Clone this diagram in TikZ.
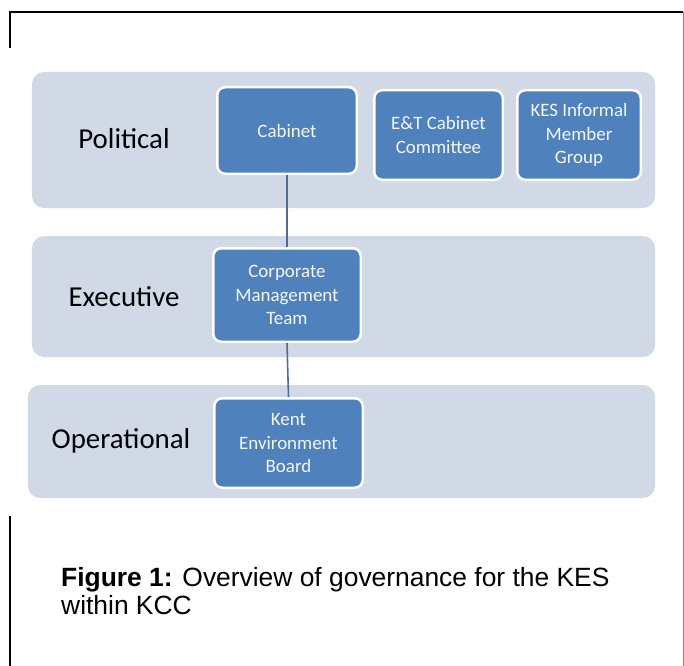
\documentclass[tikz,border=0pt]{standalone}
\usepackage{fontspec}
\setmainfont{Carlito}
\newfontfamily\capfont{Liberation Sans}
\usepackage{tikz}

\definecolor{bandfill}{RGB}{209,217,231}
\definecolor{boxfill}{RGB}{79,129,189}
\definecolor{linkcol}{RGB}{72,110,158}
\definecolor{frame}{RGB}{128,128,128}

\begin{document}
\begin{tikzpicture}[x=1bp, y=-1bp,
  band/.style = {shape=rectangle, rounded corners=12bp, fill=bandfill,
    inner sep=0pt},
  unit/.style = {shape=rectangle, rounded corners=8bp, draw=white,
    line width=2.5bp, fill=boxfill, text=white!94!boxfill, align=center,
    inner sep=0pt, font=\fontsize{19}{23.5}\selectfont},
  level/.style = {font=\fontsize{29}{33}\selectfont, text=black},
  link/.style = {draw=linkcol, line width=1.6bp}]
  \useasboundingbox (0,0) rectangle (684,666);
  % page frame
  \draw[line width=1.5bp] (9,12) -- (683,12);
  \draw[line width=1.5bp] (10,12) -- (10,48);
  \draw[line width=1.5bp] (10,516) -- (10,666);
  \draw[frame, line width=1bp] (683,12) -- (683,666);
  % bands
  \node[band, minimum width=623bp, minimum height=136bp] (political) at (343.5,140) {};
  \node[band, minimum width=623bp, minimum height=121bp] (executive) at (343.5,296.5) {};
  \node[band, minimum width=627bp, minimum height=113bp] (operational) at (341.5,441.5) {};
  \node[level] (politicallbl) at (124,139) {Political};
  \node[level] (executivelbl) at (124,297) {Executive};
  \node[level] (operationallbl) at (121,441) {Operational};
  % boxes
  \node[unit, minimum width=139.5bp, minimum height=86.5bp] (cabinet) at (287,130.5) {Cabinet};
  \node[unit, minimum width=128.5bp, minimum height=89.5bp] (etc) at (438.5,135) {E\&T Cabinet\\Committee};
  \node[unit, minimum width=123.5bp, minimum height=89.5bp] (kes) at (579,135) {KES Informal\\Member\\Group};
  \node[unit, minimum width=147.5bp, minimum height=93.5bp] (cmt) at (287,295) {Corporate\\Management\\Team};
  \node[unit, minimum width=148.5bp, minimum height=89.5bp] (keb) at (288.5,443) {Kent\\Environment\\Board};
  % links
  \draw[link] (cabinet.south) -- (cmt.north);
  \draw[link] (cmt.south) -- (keb.north);
  % caption
  \node[anchor=base west, align=left, inner sep=0pt,
    font=\capfont\fontsize{26.5}{28}\selectfont] (caption) at (61,614)
    {\textbf{Figure 1:} Overview of governance for the KES\\within KCC};
\end{tikzpicture}
\end{document}
